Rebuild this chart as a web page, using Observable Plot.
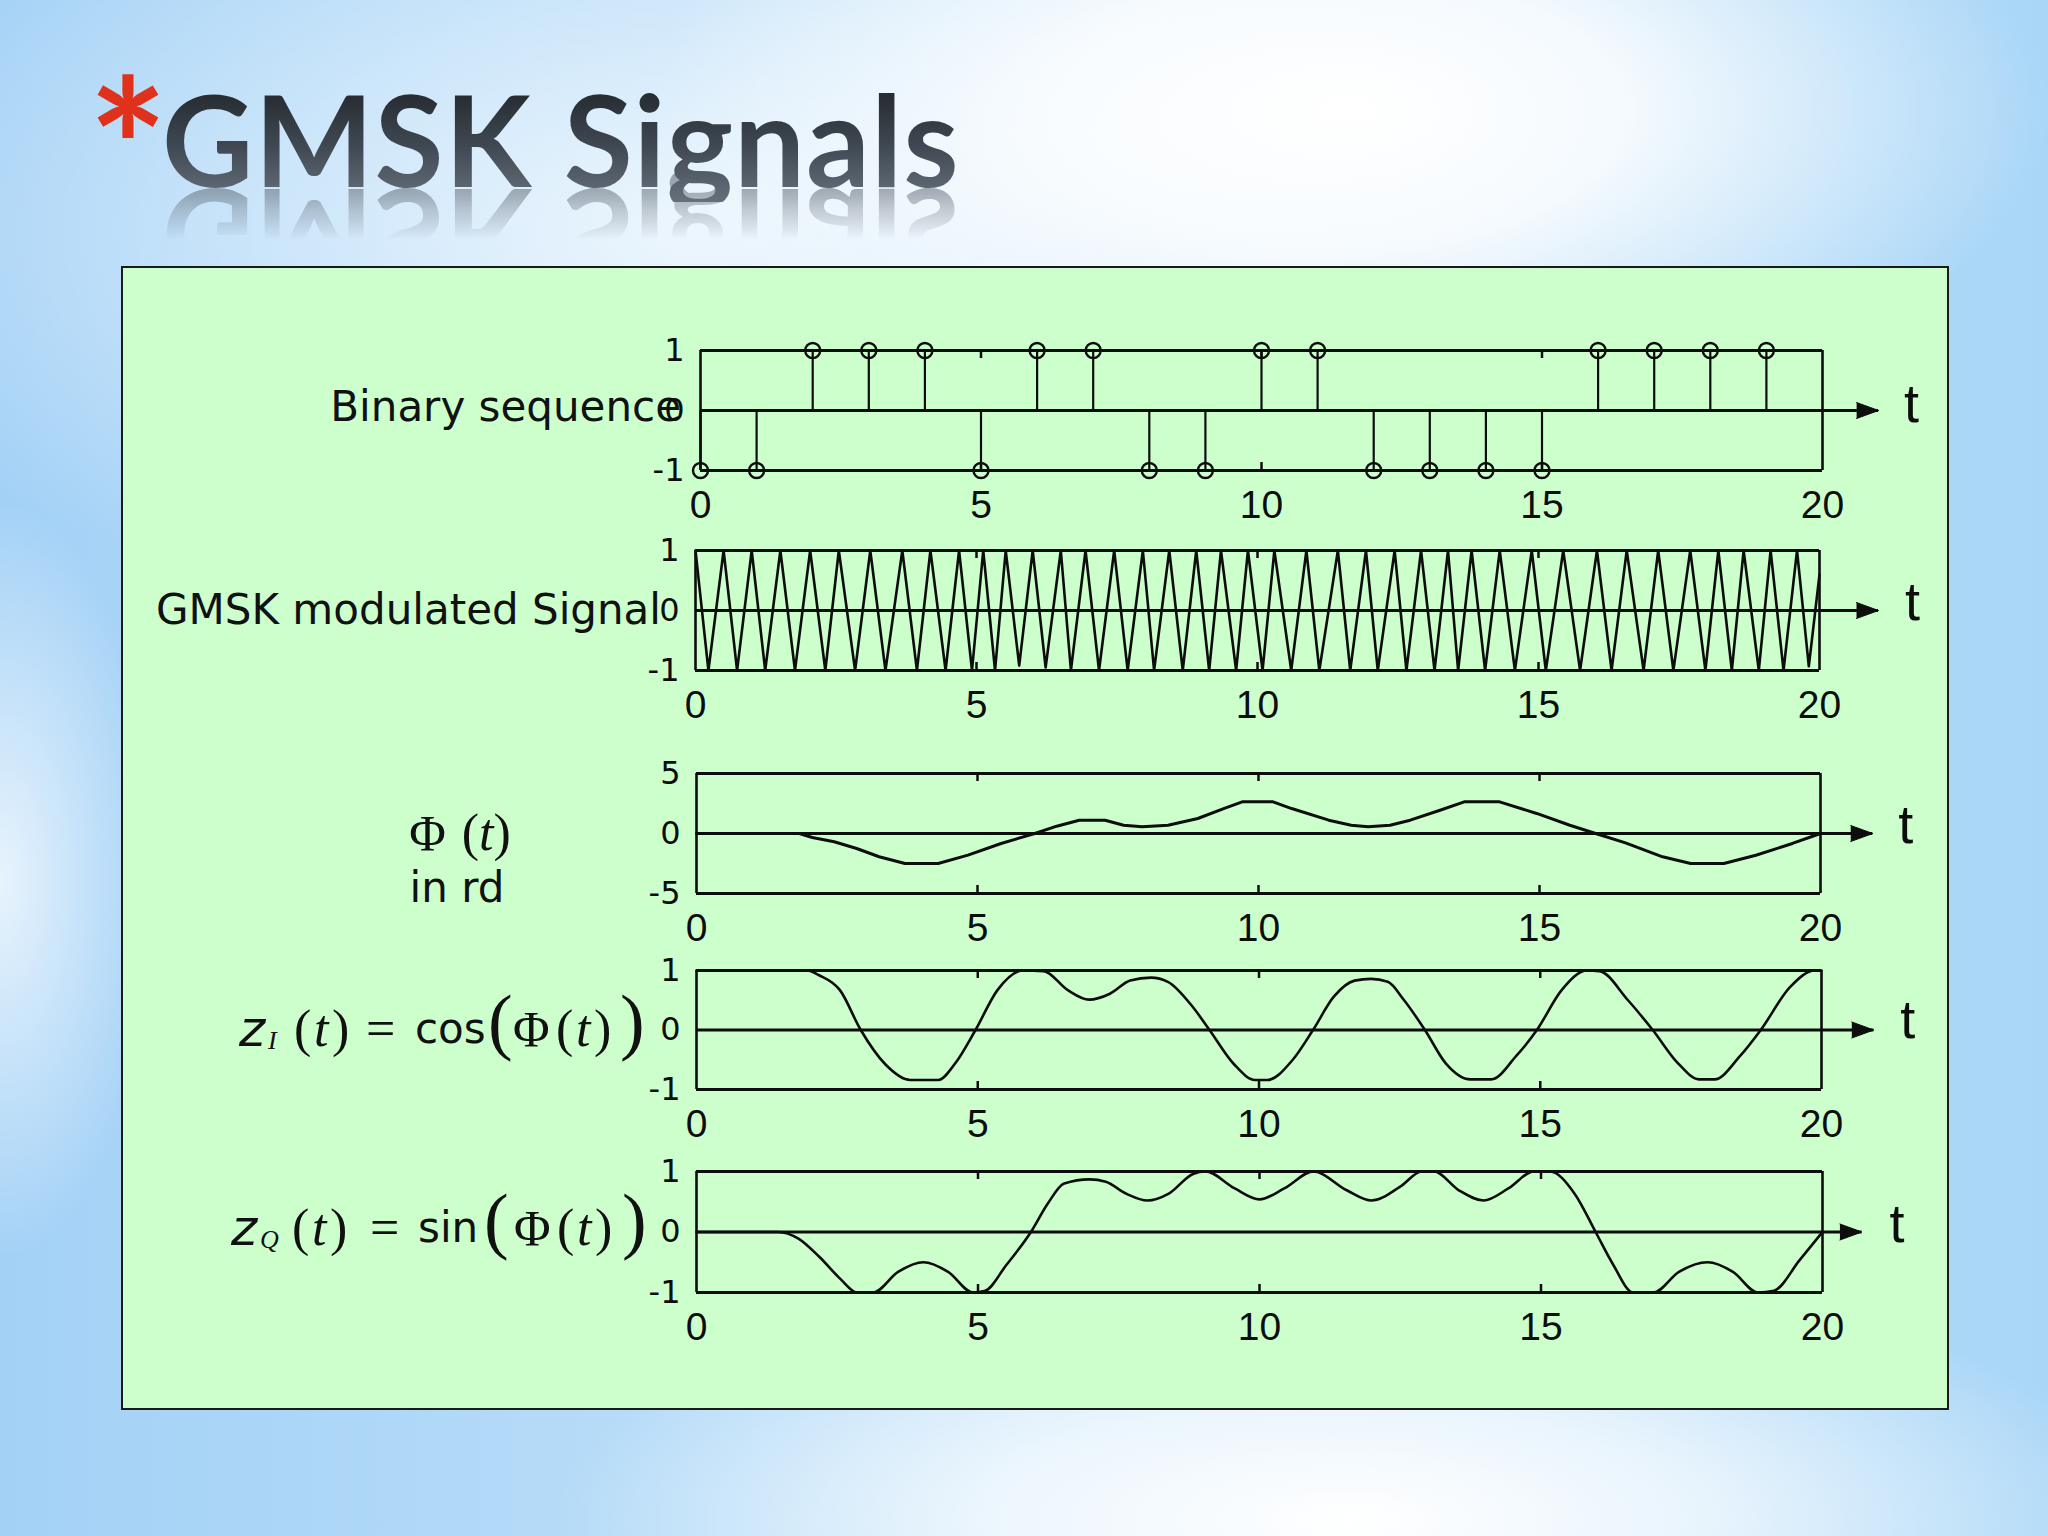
<!DOCTYPE html>
<html>
<head>
<meta charset="utf-8">
<script src="https://cdn.jsdelivr.net/npm/d3@7"></script>
<script src="https://cdn.jsdelivr.net/npm/@observablehq/plot@0.6"></script>
<style>
  html, body { margin: 0; padding: 0; }
  body {
    width: 2048px; height: 1536px; overflow: hidden; position: relative;
    background:
      radial-gradient(ellipse 700px 330px at 1350px 110px, rgba(255,255,255,1) 0%, rgba(255,255,255,0.85) 40%, rgba(255,255,255,0) 100%),
      radial-gradient(ellipse 800px 260px at 1350px 1520px, rgba(255,255,255,1) 0%, rgba(255,255,255,0.7) 45%, rgba(255,255,255,0) 100%),
      radial-gradient(ellipse 160px 380px at 0px 880px, rgba(255,255,255,0.75) 0%, rgba(255,255,255,0) 100%),
      radial-gradient(ellipse 900px 420px at 700px 230px, rgba(255,255,255,0.75) 0%, rgba(255,255,255,0) 100%),
      linear-gradient(90deg, #a3d1f6 0%, #c2e2f9 50%, #a9d6f7 100%);
  }
  #star {
    position: absolute; left: 88px; top: 50px;
    font-family: Lato, sans-serif; font-weight: 700; font-size: 188px; line-height: 1;
    color: #e0311c;
  }
  #title {
    position: absolute; left: 162px; top: 76px;
    font-family: Lato, sans-serif; font-weight: 700; font-size: 126px; line-height: 1;
    letter-spacing: 1px;
    background: linear-gradient(180deg, #1e2226 0%, #3f4852 55%, #66707c 100%);
    -webkit-background-clip: text; background-clip: text; color: transparent;
    -webkit-box-reflect: below -28px linear-gradient(to bottom, rgba(0,0,0,0) 48%, rgba(0,0,0,0.28) 72%, rgba(0,0,0,0.55) 89%, rgba(0,0,0,0.6) 100%);
  }
  #box {
    position: absolute; left: 121px; top: 266px; width: 1828px; height: 1144px;
    box-sizing: border-box; border: 2px solid #1a1a1a; background: #ccffcc;
  }
  .lab {
    position: absolute; font-family: "DejaVu Sans", sans-serif; font-size: 42px;
    line-height: 50px; color: #111; white-space: nowrap;
  }
  .f { position: absolute; line-height: 60px; height: 60px; font-family: "DejaVu Sans", sans-serif; font-size: 42px; color: #111; white-space: nowrap; }
  .f span { position: absolute; top: 0; }
  .zi { font-family: "DejaVu Sans", sans-serif; font-style: oblique; font-size: 50px; }
  .it { font-family: "Liberation Serif", serif; font-style: italic; font-size: 52px; }
  .p { font-family: "Liberation Serif", serif; font-size: 52px; }
  .ph { font-family: "Liberation Serif", serif; font-size: 50px; }
  .bp { font-family: "Liberation Serif", serif; font-size: 74px; top: -8px !important; }
  .sb { font-family: "Liberation Serif", serif; font-style: italic; font-size: 26px; top: 12px !important; }
  .plotwrap { position: absolute; }
</style>
</head>
<body>
<div id="box"></div>
<div id="star">*</div>
<div id="title">GMSK Signals</div>

<div class="lab" style="right:1367px; top:382px;">Binary sequence</div>
<div class="lab" style="right:1387px; top:585px;">GMSK modulated Signal</div>
<div class="lab" style="left:350px; width:220px; text-align:center; top:803px; font-size:50px; line-height:60px;"><span class="ph">Φ</span> <span class="p">(</span><span class="it">t</span><span class="p">)</span></div>
<div class="lab" style="left:357px; width:200px; text-align:center; top:863px;">in rd</div>

<div class="f" style="left:0; top:999px; width:700px;">
  <span class="zi" style="left:239px;">z</span>
  <span class="sb" style="left:268px;">I</span>
  <span class="p" style="left:294px;">(</span>
  <span class="it" style="left:314px;">t</span>
  <span class="p" style="left:332px;">)</span>
  <span class="p" style="left:366px;">=</span>
  <span style="left:415px;">cos</span>
  <span class="bp" style="left:488px;">(</span>
  <span class="ph" style="left:513px;">Φ</span>
  <span class="p" style="left:556px;">(</span>
  <span class="it" style="left:576px;">t</span>
  <span class="p" style="left:594px;">)</span>
  <span class="bp" style="left:620px;">)</span>
</div>
<div class="f" style="left:0; top:1198px; width:700px;">
  <span class="zi" style="left:231px;">z</span>
  <span class="sb" style="left:260px;">Q</span>
  <span class="p" style="left:292px;">(</span>
  <span class="it" style="left:312px;">t</span>
  <span class="p" style="left:330px;">)</span>
  <span class="p" style="left:370px;">=</span>
  <span style="left:418px;">sin</span>
  <span class="bp" style="left:484px;">(</span>
  <span class="ph" style="left:514px;">Φ</span>
  <span class="p" style="left:557px;">(</span>
  <span class="it" style="left:577px;">t</span>
  <span class="p" style="left:595px;">)</span>
  <span class="bp" style="left:622px;">)</span>
</div>

<script>
// ---------------- data ----------------
const bitTimes = [0, 1, 2, 3, 4, 5, 6, 7, 8, 9, 10, 11, 12, 13, 14, 15, 16, 17, 18, 19];
const bitValues = [-1, -1, 1, 1, 1, -1, 1, 1, -1, -1, 1, 1, -1, -1, -1, -1, 1, 1, 1, 1];

// GMSK modulated signal: times and values of the successive peaks / troughs
const gmskT = [0, 0.23, 0.50, 0.74, 1.00, 1.24, 1.51, 1.77, 2.04, 2.31, 2.55, 2.84, 3.11, 3.38, 3.68, 3.94,
  4.18, 4.45, 4.69, 4.92, 5.12, 5.33, 5.52, 5.76, 6.00, 6.23, 6.50, 6.68, 6.94, 7.18, 7.45, 7.69, 7.96,
  8.16, 8.43, 8.67, 8.91, 9.14, 9.35, 9.62, 9.83, 10.09, 10.30, 10.60, 10.87, 11.10, 11.43, 11.65, 11.93,
  12.14, 12.44, 12.65, 12.91, 13.15, 13.39, 13.57, 13.81, 14.05, 14.31, 14.58, 14.88, 15.13, 15.44, 15.74,
  16.04, 16.30, 16.57, 16.87, 17.13, 17.40, 17.70, 17.97, 18.20, 18.44, 18.65, 18.92, 19.13, 19.36, 19.60,
  19.81, 20.00];
const gmskV = [1, -1, 1, -1, 1, -1, 1, -1, 1, -1, 1, -1, 1, -1, 1, -1,
  1, -1, 1, -1, 1, -1, 1, -0.92, 1, -0.95, 1, -1, 1, -1, 1, -1, 1,
  -1, 1, -1, 1, -1, 1, -1, 1, -1, 1, -1, 1, -1, 1, -1, 1,
  -1, 1, -1, 1, -1, 1, -1, 1, -1, 1, -1, 1, -1, 1, -1,
  1, -1, 1, -1, 1, -1, 1, -1, 1, -1, 1, -1, 1, -1, 1,
  -0.93, 0.6];

// Phase Φ(t) in rd
const phiT = [0, 1.83, 2.06, 2.45, 2.85, 3.25, 3.71, 4.30, 4.83, 5.42, 6.02, 6.41, 6.81, 7.27, 7.60,
  7.93, 8.39, 8.92, 9.38, 9.71, 10.26, 10.59, 11.25, 11.65, 11.95, 12.34, 12.70, 13.23, 13.66, 14.29,
  14.95, 15.54, 16.00, 16.53, 17.19, 17.69, 18.28, 18.85, 19.50, 20.00];
const phiV = [0, 0, -0.33, -0.69, -1.25, -1.94, -2.5, -2.5, -1.8, -0.83, 0, 0.61, 1.11, 1.11, 0.69,
  0.56, 0.69, 1.25, 2.08, 2.64, 2.64, 2.08, 1.11, 0.69, 0.56, 0.69, 1.11, 1.94, 2.64, 2.64,
  1.67, 0.69, 0, -0.78, -1.94, -2.5, -2.5, -1.81, -0.83, 0];

// z_I(t) = cos(Φ(t))
const ziT = [0, 1.96, 2.18, 2.55, 2.92, 3.36, 3.80, 4.30, 4.60, 4.96, 5.35, 5.80, 6.17, 6.60, 6.98,
  7.35, 7.71, 8.08, 8.38, 8.82, 9.12, 9.56, 9.93, 10.15, 10.60, 10.96, 11.33, 11.70, 11.99, 12.29,
  12.58, 12.95, 13.32, 13.76, 14.13, 14.57, 14.94, 15.38, 15.83, 16.05, 16.56, 17.00, 17.45, 17.82, 18.10,
  18.55, 18.92, 19.44, 19.88, 20.00];
const ziV = [1, 1, 0.92, 0.67, 0, -0.58, -0.84, -0.84, -0.56, 0, 0.67, 1, 0.99, 0.67, 0.51,
  0.61, 0.83, 0.88, 0.81, 0.39, 0, -0.58, -0.84, -0.84, -0.50, 0, 0.56, 0.83, 0.86, 0.81,
  0.50, 0, -0.56, -0.83, -0.83, -0.44, 0, 0.67, 1, 0.99, 0.50, 0, -0.56, -0.83, -0.83,
  -0.44, 0, 0.72, 1, 1];

// z_Q(t) = sin(Φ(t))
const zqT = [0, 1.45, 1.81, 2.18, 2.55, 2.85, 3.14, 3.58, 4.03, 4.47, 4.91, 5.13, 5.50, 5.94, 6.24,
  6.53, 6.98, 7.27, 7.64, 8.01, 8.38, 8.82, 9.04, 9.56, 10.00, 10.44, 10.96, 11.55, 11.99, 12.50,
  12.88, 13.10, 13.54, 13.98, 14.42, 14.87, 15.16, 15.60, 15.97, 16.27, 16.64, 17.00, 17.45, 17.96, 18.41,
  18.85, 19.14, 19.59, 20.00];
const zqV = [0, 0, -0.11, -0.41, -0.77, -1, -1, -0.66, -0.50, -0.66, -1, -0.97, -0.55, 0, 0.47,
  0.80, 0.87, 0.83, 0.63, 0.52, 0.63, 0.96, 1, 0.72, 0.54, 0.72, 1, 0.69, 0.52, 0.75,
  1, 1, 0.69, 0.52, 0.72, 1, 1, 0.63, 0, -0.52, -1, -1, -0.66, -0.50, -0.66,
  -1, -0.97, -0.47, 0];

// axis tick labels
const xTickLabels = [0, 5, 10, 15, 20];
const xInnerTicks = [5, 10, 15];
const yTicksUnit = [1, 0, -1];
const yTicksPhase = [5, 0, -5];
const tDomain = [0, 20];

// ---------------- drawing ----------------
const zip = (T, V) => T.map((t, i) => ({t, v: V[i]}));
const INK = "#0d0d0d";
const tickFont = "'Liberation Sans Narrow', 'Liberation Sans', Arial, sans-serif";

function panel(cfg, dataMarks) {
  const svgLeft = 600, width = 1360, mTop = 40, mBottom = 62;
  const plotH = cfg.bottom - cfg.top;
  const [y0, y1] = cfg.yDomain;
  const chart = Plot.plot({
    width,
    height: mTop + plotH + mBottom,
    marginLeft: cfg.left - svgLeft,
    marginRight: svgLeft + width - cfg.right,
    marginTop: mTop,
    marginBottom: mBottom,
    x: {domain: tDomain, axis: null},
    y: {domain: cfg.yDomain, axis: null},
    style: {background: "transparent", overflow: "visible"},
    marks: [
      // inner ticks on top and bottom edges
      Plot.ruleX(xInnerTicks, {x: d => d, y1: y1, y2: y1, insetBottom: -8, stroke: INK, strokeWidth: 2.5}),
      Plot.ruleX(xInnerTicks, {x: d => d, y1: y0, y2: y0, insetTop: -8, stroke: INK, strokeWidth: 2.5}),
      // frame
      Plot.ruleX(tDomain, {stroke: INK, strokeWidth: 2.6}),
      Plot.ruleY([y0, y1], {stroke: INK, strokeWidth: 3.2}),
      // time axis with arrow
      Plot.ruleY([0], {x1: 0, x2: cfg.tEnd, stroke: INK, strokeWidth: 3.2}),
      Plot.vector([cfg.tEnd], {x: d => d, y: 0, length: 22, rotate: 90, shape: "spike", r: 8, anchor: "end", fill: INK, stroke: INK, strokeWidth: 1}),
      Plot.text(["t"], {x: cfg.tEnd, y: 0, text: d => d, dx: cfg.tDx, dy: cfg.tDy, fontSize: 54, fontFamily: "'Liberation Sans', Arial, sans-serif", fill: INK}),
      // tick labels
      Plot.text(xTickLabels, {x: d => d, y: y0, dy: 35, text: d => String(d), fontSize: 39, fontFamily: tickFont, fill: INK, lineAnchor: "middle"}),
      Plot.text(cfg.yTicks, {y: d => d, frameAnchor: "left", dx: -16, textAnchor: "end", lineAnchor: "middle", text: d => String(d), fontSize: 32, fontFamily: "'DejaVu Sans', sans-serif", fill: INK}),
      ...dataMarks
    ]
  });
  const wrap = document.createElement("div");
  wrap.className = "plotwrap";
  wrap.style.left = svgLeft + "px";
  wrap.style.top = (cfg.top - mTop) + "px";
  wrap.appendChild(chart);
  document.body.appendChild(wrap);
}

// Binary sequence
panel({left: 700, right: 1822, top: 350, bottom: 470, yDomain: [-1, 1], yTicks: yTicksUnit, tEnd: 21, tDx: 33, tDy: -6}, [
  Plot.ruleX(zip(bitTimes, bitValues), {x: "t", y1: 0, y2: "v", stroke: INK, strokeWidth: 2.2}),
  Plot.dot(zip(bitTimes, bitValues), {x: "t", y: "v", r: 7.5, stroke: INK, strokeWidth: 2.4, fill: "none"})
]);

// GMSK modulated signal
panel({left: 695, right: 1819, top: 550, bottom: 670, yDomain: [-1, 1], yTicks: yTicksUnit, tEnd: 21.05, tDx: 34, tDy: -8}, [
  Plot.line(zip(gmskT, gmskV), {x: "t", y: "v", stroke: INK, strokeWidth: 2.6, strokeLinejoin: "round"})
]);

// Phase
panel({left: 696, right: 1820, top: 773, bottom: 893, yDomain: [-5, 5], yTicks: yTicksPhase, tEnd: 20.93, tDx: 33, tDy: -8}, [
  Plot.line(zip(phiT, phiV), {x: "t", y: "v", stroke: INK, strokeWidth: 3, strokeLinejoin: "round"})
]);

// z_I
panel({left: 696, right: 1821, top: 970, bottom: 1089, yDomain: [-1, 1], yTicks: yTicksUnit, tEnd: 20.93, tDx: 34, tDy: -9}, [
  Plot.line(zip(ziT, ziV), {x: "t", y: "v", curve: "monotone-x", stroke: INK, strokeWidth: 2.6})
]);

// z_Q
panel({left: 696, right: 1822, top: 1171, bottom: 1292, yDomain: [-1, 1], yTicks: yTicksUnit, tEnd: 20.7, tDx: 35, tDy: -7}, [
  Plot.line(zip(zqT, zqV), {x: "t", y: "v", curve: "monotone-x", stroke: INK, strokeWidth: 2.6})
]);
</script>
</body>
</html>
